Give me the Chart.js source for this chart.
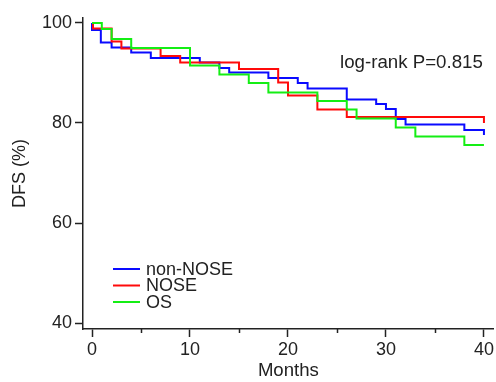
<!DOCTYPE html>
<html>
<head>
<meta charset="utf-8">
<script src="https://cdn.jsdelivr.net/npm/chart.js@4/dist/chart.umd.min.js"></script>
<style>
  html, body { margin: 0; padding: 0; background: #fff; }
  #wrap { width: 496px; height: 382px; position: relative; }
</style>
</head>
<body>
<div id="wrap"><canvas id="dfs-chart"></canvas></div>
<script>
// Kaplan-Meier style DFS curves.
// Each point is (month of event, DFS % right after it); drawn as step-before lines.
const seriesLabels = ["non-NOSE", "NOSE", "OS"];
const seriesColors = ["#0a0aff", "#ff0a0a", "#14ee14"];

const nonNoseMonths = [0, 0, 0.9, 2, 4, 6, 11, 13, 14, 18, 21, 22, 26, 29, 30, 31, 32, 38, 40];
const nonNoseDfs = [100, 98.6, 96.1, 95.1, 94.1, 93.0, 92.1, 91.0, 90.1, 89.0, 88.0, 86.9, 84.7, 83.8, 82.8, 80.8, 79.7, 78.6, 77.6];

const noseMonths = [0, 0.1, 2, 3, 7, 9, 15, 19, 20, 23, 26, 40];
const noseDfs = [100, 98.9, 96.3, 94.9, 93.4, 92.1, 90.8, 88.1, 85.5, 82.7, 81.2, 80.0];

const osMonths = [0, 1, 2, 4, 10, 13, 16, 18, 23, 26, 27, 31, 33, 38, 40];
const osDfs = [100, 98.8, 96.8, 95.0, 91.5, 89.7, 88.0, 86.1, 84.4, 82.7, 80.9, 79.1, 77.3, 75.6, 75.6];

const monthTicks = [0, 10, 20, 30, 40];
const monthMinorTicks = [5, 15, 25, 35];
const dfsTicks = [40, 60, 80, 100];

const annotationText = "log-rank P=0.815";

const FONT = "'Liberation Sans', Arial, Helvetica, sans-serif";
const INK = "#222";

function toPoints(months, values) {
  return months.map((m, i) => ({ x: m, y: values[i] }));
}

// minor x ticks, the in-plot legend and the p-value note
const extrasPlugin = {
  id: "extras",
  afterDraw(chart) {
    const { ctx, chartArea, scales } = chart;
    const x = scales.x;
    ctx.save();

    // short unlabelled ticks at 5, 15, 25, 35
    ctx.strokeStyle = INK;
    ctx.lineWidth = 1.5;
    monthMinorTicks.forEach((m) => {
      const px = Math.round(x.getPixelForValue(m)) + 0.5;
      ctx.beginPath();
      ctx.moveTo(px, chartArea.bottom);
      ctx.lineTo(px, chartArea.bottom + 4);
      ctx.stroke();
    });

    ctx.fillStyle = INK;

    // p-value note, top right
    ctx.font = `18.7px ${FONT}`;
    ctx.textAlign = "left";
    ctx.textBaseline = "alphabetic";
    ctx.fillText(annotationText, chartArea.left + 257, 68);

    // legend, bottom left inside the plot
    ctx.font = `18px ${FONT}`;
    const rowYs = [269, 285.5, 302];
    ctx.textBaseline = "middle";
    chart.data.datasets.forEach((ds, i) => {
      const y = rowYs[i];
      ctx.strokeStyle = ds.borderColor;
      ctx.lineWidth = 2;
      ctx.beginPath();
      ctx.moveTo(chartArea.left + 30, y);
      ctx.lineTo(chartArea.left + 57, y);
      ctx.stroke();
      ctx.fillStyle = INK;
      ctx.fillText(ds.label, chartArea.left + 63, y + 1);
    });

    ctx.restore();
  },
};

const datasets = [
  toPoints(nonNoseMonths, nonNoseDfs),
  toPoints(noseMonths, noseDfs),
  toPoints(osMonths, osDfs),
].map((pts, i) => ({
  label: seriesLabels[i],
  data: pts,
  borderColor: seriesColors[i],
  backgroundColor: seriesColors[i],
  borderWidth: 2,
  stepped: "before",
  pointRadius: 0,
  fill: false,
  order: 3 - i,
}));

new Chart(document.getElementById("dfs-chart"), {
  type: "line",
  data: { datasets },
  plugins: [extrasPlugin],
  options: {
    responsive: true,
    maintainAspectRatio: false,
    animation: false,
    layout: { padding: { top: 18, right: 2, left: 0, bottom: 0 } },
    plugins: {
      legend: { display: false },
      tooltip: { enabled: false },
    },
    scales: {
      x: {
        type: "linear",
        min: -0.92,
        max: 41,
        afterBuildTicks: (s) => { s.ticks = monthTicks.map((v) => ({ value: v })); },
        afterFit: (s) => { s.height = 53; },
        ticks: { color: INK, font: { family: FONT, size: 18 }, padding: 2, maxRotation: 0 },
        grid: { drawOnChartArea: false, tickLength: 8, tickColor: INK, tickWidth: 1.5 },
        border: { display: true, color: INK, width: 1.5 },
        title: { display: true, text: "Months", color: INK, font: { family: FONT, size: 18.6 }, padding: { top: 0, bottom: 0 } },
      },
      y: {
        min: 38.8,
        max: 101,
        afterBuildTicks: (s) => { s.ticks = dfsTicks.map((v) => ({ value: v })); },
        afterFit: (s) => { s.width = 83; },
        ticks: { color: INK, font: { family: FONT, size: 18 }, padding: 3 },
        grid: { drawOnChartArea: false, tickLength: 8, tickColor: INK, tickWidth: 1.5 },
        border: { display: true, color: INK, width: 1.5 },
        title: { display: true, text: "DFS (%)", color: INK, font: { family: FONT, size: 18 }, padding: { top: 9, bottom: 0 } },
      },
    },
  },
});
</script>
</body>
</html>
